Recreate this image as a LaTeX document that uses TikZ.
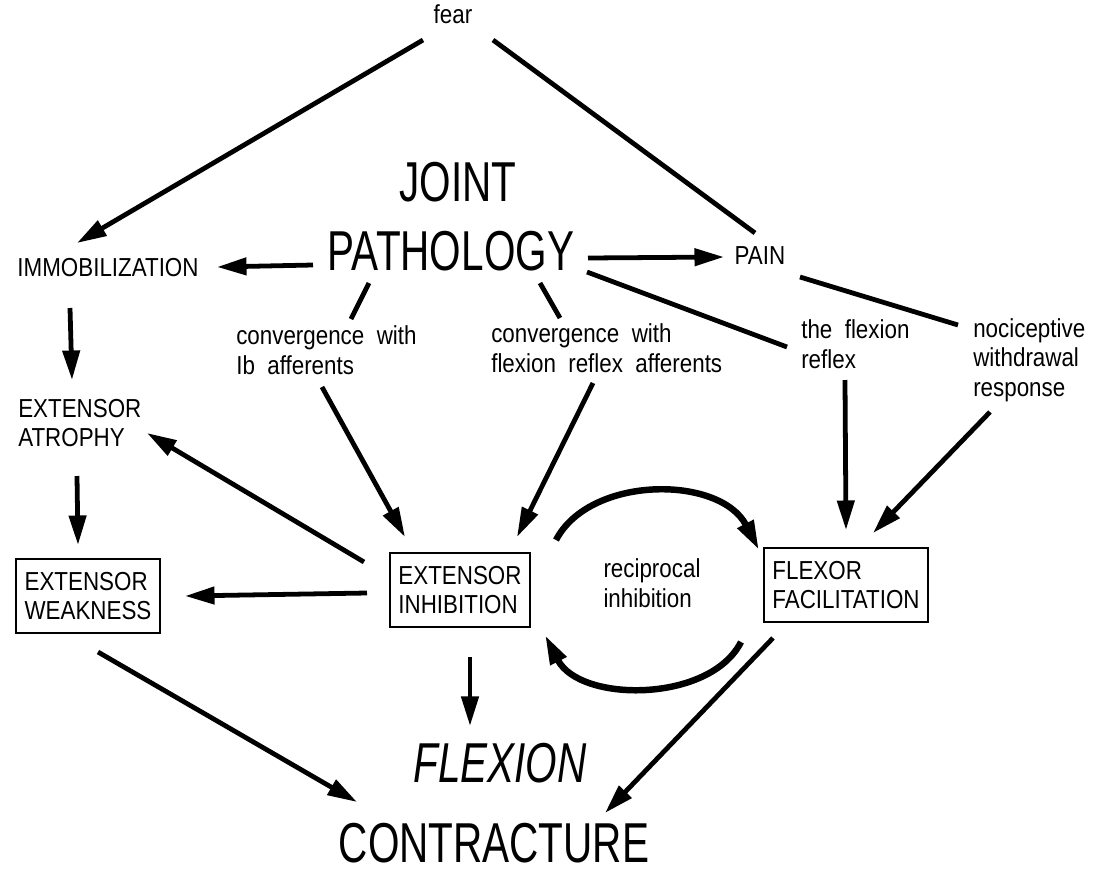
\documentclass[tikz,border=0pt]{standalone}
\usepackage{fontspec}
\setmainfont{Liberation Sans}
\newfontfamily\lblfont[FakeStretch=0.86,WordSpace=2]{Liberation Sans}
\newfontfamily\bigfont[FakeStretch=0.72]{Liberation Sans}
\usetikzlibrary{arrows.meta}

\tikzset{
  lbl/.style={inner sep=0pt, align=left, font=\lblfont\fontsize{18.5}{21}\selectfont},
  big/.style={inner sep=0pt, font=\bigfont\fontsize{40}{44}\selectfont},
  box/.style={lbl, draw, line width=1.2pt, inner xsep=6pt, minimum height=53pt},
  link/.style={line width=3.4pt},
  arr/.style={link, -{Triangle[length=21pt, width=12pt]}},
}

\begin{document}
\begin{tikzpicture}[x=0.025cm, y=-0.025cm]

    \useasboundingbox (0,0) rectangle (1094,877);

    % top of the scheme
    \node[lbl] (fear) at (453,14) {fear};
    \node[big] (joint) at (458,182) {JOINT};
    \node[big] (patho) at (451,251) {PATHOLOGY};
    \node[lbl] (immob) at (108,268) {IMMOBILIZATION};
    \node[lbl] (pain) at (760,256) {PAIN};

    % the ways in
    \node[lbl, anchor=west] (convIb) at (236,350) {convergence with\\Ib afferents};
    \node[lbl, anchor=west] (convFl) at (491,348) {convergence with\\flexion reflex afferents};
    \node[lbl, anchor=west] (flexrefl) at (801,344) {the flexion\\reflex};
    \node[lbl, anchor=west] (nocic) at (973,360) {nociceptive\\withdrawal\\response};
    \node[lbl, anchor=west] (extatr) at (18,423) {EXTENSOR\\ATROPHY};

    % boxes
    \node[box] (extweak) at (88,596) {EXTENSOR\\WEAKNESS};
    \node[box] (extinh) at (460,590) {EXTENSOR\\INHIBITION};
    \node[box] (flexfac) at (846,585) {FLEXOR\\FACILITATION};
    \node[lbl] (recip) at (652,583) {reciprocal\\inhibition};

    % the end
    \node[big] (flexion) at (500,763) {\itshape FLEXION};
    \node[big] (contr) at (494,843) {CONTRACTURE};

    \draw[arr] ([shift={(-30,26)}]fear.center) -- ([shift={(-31,-25)}]immob.center);
    \draw[link] ([shift={(40,26)}]fear.center) -- ([shift={(-5,-23)}]pain.center);
    \draw[arr] ([shift={(-138,14)}]patho.center) -- ([shift={(109,-1)}]immob.center);
    \draw[arr] ([shift={(137,7)}]patho.center) -- ([shift={(-36,1)}]pain.center);

    \draw[link] ([shift={(-82,32)}]patho.center) -- ([shift={(115,-31)}]convIb.west);
    \draw[link] ([shift={(89,32)}]patho.center) -- ([shift={(69,-30)}]convFl.west);
    \draw[link] ([shift={(136,21)}]patho.center) -- ([shift={(-14,3)}]flexrefl.west);
    \draw[link] ([shift={(40,21)}]pain.center) -- ([shift={(-15,-35)}]nocic.west);

    \draw[arr] ([shift={(-38,40)}]immob.center) -- ([shift={(54,-43)}]extatr.west);
    \draw[arr] ([shift={(59,53)}]extatr.west) -- ([shift={(-10,-51)}]extweak.center);
    \draw[arr] ([shift={(-96,-28)}]extinh.center) -- ([shift={(129,10)}]extatr.west);
    \draw[arr] ([shift={(-93,3)}]extinh.center) -- ([shift={(97,0)}]extweak.center);

    \draw[arr] ([shift={(86,37)}]convIb.west) -- ([shift={(-55,-53)}]extinh.center);
    \draw[arr] ([shift={(102,35)}]convFl.west) -- ([shift={(57,-53)}]extinh.center);
    \draw[arr] ([shift={(44,36)}]flexrefl.west) -- ([shift={(0,-55)}]flexfac.center);
    \draw[arr] ([shift={(17,52)}]nocic.west) -- ([shift={(27,-52)}]flexfac.center);

    % reciprocal inhibition
    \draw[arr, line width=4.6pt] ([shift={(96,-50)}]extinh.center) .. controls (590,475) and (720,475) .. ([shift={(-87,-35)}]flexfac.center);
    \draw[arr, line width=4.6pt] ([shift={(-105,57)}]flexfac.center) .. controls (710,703) and (580,703) .. ([shift={(85,45)}]extinh.center);

    \draw[arr] ([shift={(10,67)}]extinh.center) -- ([shift={(-30,-37)}]flexion.center);
    \draw[arr] ([shift={(10,56)}]extweak.center) -- ([shift={(-137,-41)}]contr.center);
    \draw[arr] ([shift={(-73,53)}]flexfac.center) -- ([shift={(111,-30)}]contr.center);

\end{tikzpicture}
\end{document}
